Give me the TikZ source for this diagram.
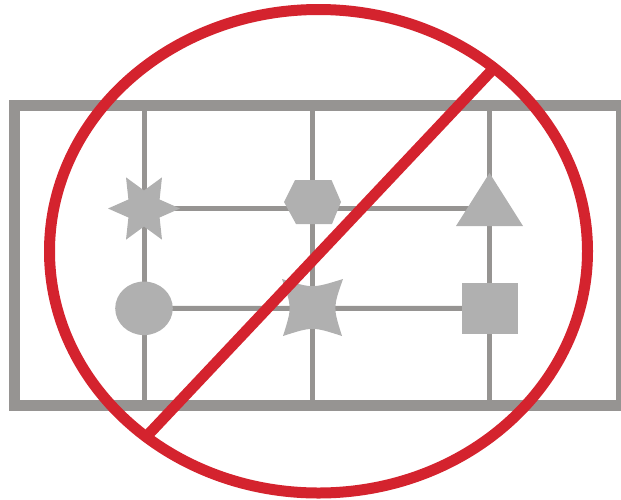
\documentclass[tikz,border=0pt]{standalone}
\definecolor{gridgray}{RGB}{150,148,146}
\definecolor{shapegray}{RGB}{176,176,176}
\definecolor{signred}{RGB}{212,35,46}
\begin{document}
\begin{tikzpicture}[x=1pt,y=-1pt,
  gridline/.style={draw=gridgray,line width=5pt},
  frameline/.style={draw=gridgray,line width=11pt},
  shp/.style={fill=shapegray,draw=none},
  forbid/.style={draw=signred,line width=11pt}]
\useasboundingbox (0,0) rectangle (621,499);
% frame
\coordinate (tl) at (14,105);
\coordinate (br) at (621,405);
\draw[frameline] (tl) rectangle (br);
% shape centres
\coordinate (star) at (144,208.5);
\coordinate (hex) at (312.5,202);
\coordinate (tri) at (489.5,208.5);
\coordinate (circ) at (144,308.3);
\coordinate (quad) at (312.5,307.5);
\coordinate (sq) at (490,308.5);
% vertical grid lines
\coordinate (v1t) at (144,105); \coordinate (v1b) at (144,405);
\coordinate (v2t) at (312,105); \coordinate (v2b) at (312,405);
\coordinate (v3t) at (489.5,105); \coordinate (v3b) at (489.5,405);
\draw[gridline] (v1t) -- (v1b);
\draw[gridline] (v2t) -- (v2b);
\draw[gridline] (v3t) -- (v3b);
% horizontal grid lines
\draw[gridline] (star) -- (tri);
\draw[gridline] (circ) -- (sq);
% star
\fill[shp,shift={(star)}] (0:36) -- (30:18) -- (60:36) -- (90:18) -- (120:36) -- (150:18)
  -- (180:36) -- (210:18) -- (240:36) -- (270:18) -- (300:36) -- (330:18) -- cycle;
% hexagon
\fill[shp,shift={(hex)}] (-28.5,0) -- (-17.5,-22) -- (19,-22) -- (28.5,0) -- (19.5,22) -- (-16.5,22) -- cycle;
% triangle
\fill[shp] (489.5,173) -- (523,226) -- (456,226) -- cycle;
% circle
\fill[shp] (circ) ellipse [x radius=28.8, y radius=26.8];
% concave four-point shape
\fill[shp,shift={(quad)}] (-30.5,-28.5) .. controls (0,-19) .. (30.5,-28.5)
  .. controls (20.5,0) .. (29.5,28.5) .. controls (0,19) .. (-29.5,28.5)
  .. controls (-20.5,0) .. cycle;
% square
\fill[shp] (462,283) rectangle (518,334);
% prohibition sign
\coordinate (ec) at (318.5,251.25);
\draw[forbid] (ec) ellipse [x radius=269, y radius=241.75];
\coordinate (d1) at (146,437);
\coordinate (d2) at (494,68);
\draw[forbid] (d1) -- (d2);
\end{tikzpicture}
\end{document}
